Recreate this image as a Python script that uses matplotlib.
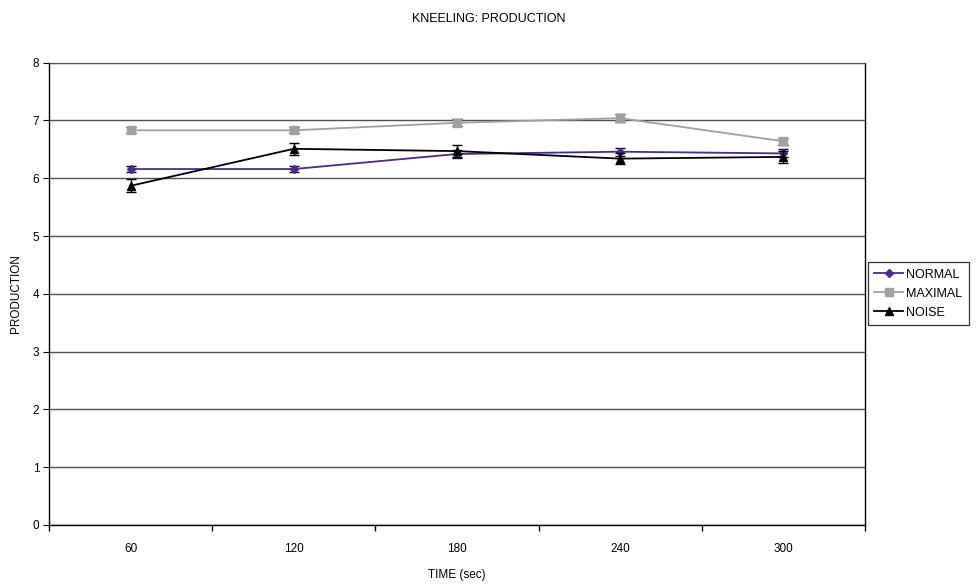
import matplotlib.pyplot as plt
import numpy as np

plt.rcParams['font.family'] = ['Liberation Sans', 'DejaVu Sans']

times = ['60', '120', '180', '240', '300']

normal = [6.16, 6.16, 6.42, 6.46, 6.43]
normal_err = [0.06, 0.05, 0.07, 0.07, 0.07]
maximal = [6.83, 6.83, 6.96, 7.04, 6.64]
maximal_err = [0.05, 0.05, 0.06, 0.07, 0.06]
noise = [5.87, 6.51, 6.47, 6.34, 6.37]
noise_err = [0.11, 0.10, 0.10, 0.09, 0.11]

fig = plt.figure(figsize=(9.77, 5.86), dpi=100)
ax = fig.add_axes([0.0502, 0.1041, 0.8352, 0.7889])

x = np.arange(len(times))

ax.errorbar(x, normal, yerr=normal_err, color='#4a2a8c', marker='D', markersize=4,
            lw=1.3, ecolor='black', elinewidth=1, capsize=3.5, capthick=1,
            label='NORMAL', zorder=3)
ax.errorbar(x, maximal, yerr=maximal_err, color='#a0a0a0', marker='s', markersize=6,
            lw=1.3, ecolor='black', elinewidth=1, capsize=3.5, capthick=1,
            label='MAXIMAL', zorder=3)
ax.errorbar(x, noise, yerr=noise_err, color='black', marker='^', markersize=6,
            lw=1.3, ecolor='black', elinewidth=1, capsize=3.5, capthick=1,
            label='NOISE', zorder=4)

ax.set_xlim(-0.5, len(times) - 0.5)
ax.set_ylim(0, 8)
ax.set_yticks(range(0, 9))
ax.yaxis.grid(True, color='#505050', lw=1)
ax.set_axisbelow(True)

ax.set_xticks(x)
ax.set_xticklabels(times)
ax.set_xticks(np.arange(-0.5, len(times)), minor=True)
ax.tick_params(axis='x', which='major', length=0, pad=13, labelsize=8.5)
ax.tick_params(axis='x', which='minor', length=4, direction='out', width=1)
ax.tick_params(axis='y', length=4, direction='out', labelsize=8.5, pad=3)

for s in ['left', 'bottom', 'right']:
    ax.spines[s].set_color('black')
    ax.spines[s].set_linewidth(1)
ax.spines['top'].set_color('#505050')

ax.set_xlabel('TIME (sec)', fontsize=8.5, labelpad=10)
ax.set_ylabel('PRODUCTION', fontsize=8.5, labelpad=8)
fig.suptitle('KNEELING: PRODUCTION', fontsize=9, y=0.977)

h, l = ax.get_legend_handles_labels()
h = [hh[0] for hh in h]
leg = fig.legend(h, l, loc='upper left', bbox_to_anchor=(0.888, 0.553), fontsize=9,
                 frameon=True, fancybox=False, edgecolor='black', handlelength=2.3,
                 handletextpad=0.2, borderpad=0.55, labelspacing=0.55, borderaxespad=0)
leg.get_frame().set_linewidth(0.9)

fig.savefig('out.png', dpi=100)
